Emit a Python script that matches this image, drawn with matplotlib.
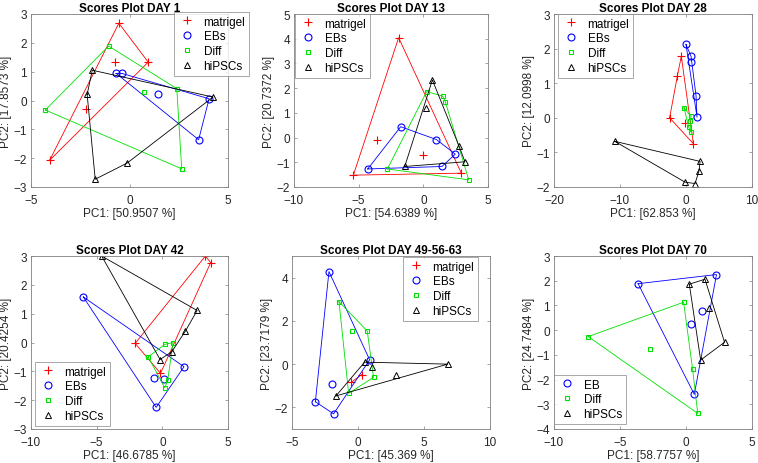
import matplotlib
matplotlib.use("Agg")
import matplotlib.pyplot as plt

plt.rcParams['font.family'] = ['Liberation Sans', 'DejaVu Sans']

# scores, (PC1, PC2) per sample
day1_matrigel = [(-0.54, 2.68), (0.95, 1.33), (-0.74, 1.35), (-2.21, -0.31), (-4.05, -2.07)]
day1_ebs = [(-0.68, 0.94), (-0.39, 0.94), (1.47, 0.21), (3.51, -1.36), (4.04, 0.06)]
day1_diff = [(-1.06, 1.89), (-4.27, -0.33), (0.74, 0.29), (2.40, 0.41), (2.65, -2.37)]
day1_hipsc = [(-1.89, 1.05), (-2.15, 0.21), (-1.74, -2.73), (-0.12, -2.17), (4.24, 0.12)]

day13_matrigel = [(-1.91, 4.04), (-5.41, -1.52), (2.94, -1.44), (-3.58, -0.11), (-0.03, -0.69)]
day13_ebs = [(-1.75, 0.44), (1.01, -0.08), (2.47, -0.67), (1.44, -1.17), (-4.30, -1.27)]
day13_diff = [(0.26, 1.86), (1.49, 1.68), (1.70, 1.45), (-2.78, -1.27), (3.51, -1.71)]
day13_hipsc = [(0.70, 2.33), (0.21, 1.20), (2.75, -0.33), (3.22, -0.98), (-1.44, -1.17)]

day28_matrigel = [(-0.71, 1.78), (-1.30, 1.22), (-2.48, 0.0), (-0.15, -0.15), (1.12, -0.75)]
day28_ebs = [(0.0, 2.12), (0.76, 1.78), (0.71, 1.62), (1.52, 0.64), (1.67, 0.02)]
day28_diff = [(-0.30, 0.29), (0.76, 0.04), (0.56, -0.10), (0.41, -0.27), (0.71, -0.41)]
day28_hipsc = [(-10.8, -0.68), (2.13, -1.26), (1.98, -1.53), (1.37, -1.90), (-0.15, -1.86)]

day42_matrigel = [(3.28, 3.0), (3.68, 2.77), (-2.07, -0.03), (-0.14, -1.07)]
day42_ebs = [(-6.02, 1.58), (1.65, -0.84), (-0.60, -1.22), (0.11, -1.25), (-0.47, -2.25)]
day42_diff = [(0.21, -0.06), (0.82, 0.0), (-1.08, -0.50), (0.41, -1.30), (0.19, -1.57)]
day42_hipsc = [(-4.62, 3.0), (2.65, 1.11), (1.76, 0.40), (0.72, -0.32), (-0.17, -0.59)]

day49_matrigel = [(-0.51, -0.84), (0.29, -0.48)]
day49_ebs = [(-2.20, 4.28), (0.88, 0.20), (-1.96, -0.92), (-1.85, -2.30), (-3.23, -1.74)]
day49_diff = [(-1.44, 2.89), (-0.44, 1.53), (0.70, 1.53), (1.18, -0.61), (-0.71, -1.35)]
day49_hipsc = [(0.50, 0.09), (1.05, -0.14), (2.89, -0.50), (6.80, 0.0), (-1.67, -1.47)]

day70_ebs = [(-3.63, 1.88), (2.31, 2.25), (1.24, 0.78), (0.40, 0.23), (0.63, -2.60)]
day70_diff = [(-0.18, 1.13), (-7.41, -0.26), (-2.74, -0.77), (0.50, -1.58), (0.89, -3.37)]
day70_hipsc = [(0.25, 1.86), (1.44, 2.06), (1.73, 0.90), (2.92, -0.49), (1.11, -1.21)]

titles = ['Scores Plot DAY 1', 'Scores Plot DAY 13', 'Scores Plot DAY 28',
          'Scores Plot DAY 42', 'Scores Plot DAY 49-56-63', 'Scores Plot DAY 70']
pc1_labels = ['PC1: [50.9507 %]', 'PC1: [54.6389 %]', 'PC1: [62.853 %]',
              'PC1: [46.6785 %]', 'PC1: [45.369 %]', 'PC1: [58.7757 %]']
pc2_labels = ['PC2: [17.8573 %]', 'PC2: [20.7372 %]', 'PC2: [12.0998 %]',
              'PC2: [20.4254 %]', 'PC2: [23.7179 %]', 'PC2: [24.7484 %]']

styles = {
    'matrigel': dict(color='red', marker='+', ms=5.5, mew=0.8),
    'EBs': dict(color='blue', marker='o', ms=5, mew=0.8, mfc='none'),
    'EB': dict(color='blue', marker='o', ms=5, mew=0.8, mfc='none'),
    'Diff': dict(color='#00e000', marker='s', ms=3.5, mew=0.8, mfc='none'),
    'hiPSCs': dict(color='black', marker='^', ms=5, mew=0.7, mfc='none'),
}

panels = [
    dict(groups=[('matrigel', day1_matrigel), ('EBs', day1_ebs), ('Diff', day1_diff), ('hiPSCs', day1_hipsc)],
         xlim=(-5, 5), ylim=(-3, 3), xt=[-5, 0, 5], yt=range(-3, 4), leg=(174, 13)),
    dict(groups=[('matrigel', day13_matrigel), ('EBs', day13_ebs), ('Diff', day13_diff), ('hiPSCs', day13_hipsc)],
         xlim=(-10, 5), ylim=(-2, 5), xt=[-10, -5, 0, 5], yt=range(-2, 6), leg=(295, 15)),
    dict(groups=[('matrigel', day28_matrigel), ('EBs', day28_ebs), ('Diff', day28_diff), ('hiPSCs', day28_hipsc)],
         xlim=(-20, 10), ylim=(-2, 3), xt=[-20, -10, 0, 10], yt=range(-2, 4), leg=(558, 15)),
    dict(groups=[('matrigel', day42_matrigel), ('EBs', day42_ebs), ('Diff', day42_diff), ('hiPSCs', day42_hipsc)],
         xlim=(-10, 5), ylim=(-3, 3), xt=[-10, -5, 0, 5], yt=range(-3, 4), leg=(35, 363)),
    dict(groups=[('matrigel', day49_matrigel), ('EBs', day49_ebs), ('Diff', day49_diff), ('hiPSCs', day49_hipsc)],
         xlim=(-5, 10), ylim=(-3, 5), xt=[-5, 0, 5, 10], yt=[-2, 0, 2, 4], leg=(403, 258)),
    dict(groups=[('EB', day70_ebs), ('Diff', day70_diff), ('hiPSCs', day70_hipsc)],
         xlim=(-10, 5), ylim=(-4, 3), xt=[-10, -5, 0, 5], yt=range(-4, 4), leg=(554, 376)),
]

# axes boxes in pixels (left, top, right, bottom) of a 758x464 picture
boxes = [(31, 15, 228, 188), (294, 15, 488, 188), (554, 15, 752, 188),
         (31, 257, 228, 430), (292, 257, 490, 430), (554, 257, 752, 430)]


def hull(pts):
    pts = sorted(set(pts))
    if len(pts) < 3:
        return pts

    def cross(o, a, b):
        return (a[0] - o[0]) * (b[1] - o[1]) - (a[1] - o[1]) * (b[0] - o[0])

    lower = []
    for p in pts:
        while len(lower) >= 2 and cross(lower[-2], lower[-1], p) <= 0:
            lower.pop()
        lower.append(p)
    upper = []
    for p in reversed(pts):
        while len(upper) >= 2 and cross(upper[-2], upper[-1], p) <= 0:
            upper.pop()
        upper.append(p)
    h = lower[:-1] + upper[:-1]
    return h + [h[0]]


W, H = 758, 464
fig = plt.figure(figsize=(W / 100, H / 100), dpi=100)
fs = 8.5
tc = '#262626'

for i, p in enumerate(panels):
    l, t, r, b = boxes[i]
    ax = fig.add_axes([l / W, 1 - b / H, (r - l) / W, (b - t) / H])
    for name, pts in p['groups']:
        st = styles[name]
        h = hull(pts)
        ax.plot([q[0] for q in h], [q[1] for q in h], color=st['color'], lw=0.6)
        ax.plot([q[0] for q in pts], [q[1] for q in pts], linestyle='none', label=name, **st)
    ax.set_xlim(*p['xlim'])
    ax.set_ylim(*p['ylim'])
    ax.set_xticks(p['xt'])
    ax.set_yticks(list(p['yt']))
    ax.tick_params(direction='in', length=2.5, width=0.5, top=True, right=True,
                   labelsize=fs, colors='#808080', labelcolor=tc)
    ax.tick_params(axis='x', pad=5)
    ax.tick_params(axis='y', pad=3)
    for s in ax.spines.values():
        s.set_color('#808080')
        s.set_linewidth(0.6)
    ax.set_title(titles[i], fontsize=fs, fontweight='bold', pad=2, color='black')
    ax.set_xlabel(pc1_labels[i], fontsize=fs, color=tc, labelpad=1)
    ax.set_ylabel(pc2_labels[i], fontsize=fs, color=tc, labelpad=1)
    lx, ly = p['leg']
    leg = ax.legend(loc='upper left', bbox_to_anchor=(lx / W, 1 - ly / H),
                    bbox_transform=fig.transFigure, borderaxespad=0, fontsize=fs,
                    frameon=True, fancybox=False, handlelength=1.6, handletextpad=0.6,
                    labelspacing=0.25, borderpad=0.3)
    leg.get_frame().set_edgecolor('#808080')
    leg.get_frame().set_linewidth(0.6)

fig.savefig('out.png', dpi=100)
